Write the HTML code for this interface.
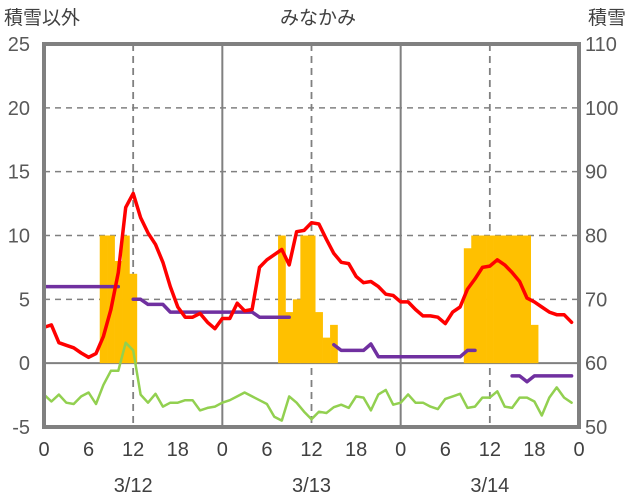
<!DOCTYPE html>
<html><head><meta charset="utf-8"><style>
html,body{margin:0;padding:0;background:#fff;}
svg{display:block;font-family:"Liberation Sans","Noto Sans CJK JP",sans-serif;}
</style></head><body>
<svg id="chart" width="636" height="501" viewBox="0 0 636 501" xmlns="http://www.w3.org/2000/svg">
<text x="4" y="24" font-size="19" fill="#404040">積雪以外</text>
<text x="318" y="24" font-size="19" fill="#404040" text-anchor="middle">みなかみ</text>
<text x="588" y="24" font-size="19" fill="#404040">積雪</text>
<g id="grid"></g><g id="bars"></g><g id="lines"></g><g id="axes"></g>
</svg>
<script>
const leftTicks=[-5,0,5,10,15,20,25];
const rightTicks=[50,60,70,80,90,100,110];
const xTickLabels=["0","6","12","18","0","6","12","18","0","6","12","18","0"];
const dateLabels=["3/12","3/13","3/14"];
const redSeries=[2.8,3.0,1.6,1.4,1.2,0.8,0.46,0.75,2.1,4.2,7.1,12.2,13.3,11.4,10.2,9.3,7.9,6.0,4.4,3.6,3.6,3.9,3.2,2.7,3.5,3.5,4.7,4.1,4.2,7.5,8.1,8.5,8.9,7.7,10.3,10.4,11.0,10.9,9.7,8.6,7.9,7.8,6.8,6.3,6.4,6.0,5.4,5.3,4.8,4.8,4.2,3.7,3.7,3.6,3.1,4.0,4.4,5.8,6.6,7.5,7.6,8.1,7.7,7.1,6.4,5.1,4.8,4.4,4.0,3.8,3.8,3.2];
const greenSeries=[-2.46,-3.0,-2.46,-3.1,-3.2,-2.6,-2.3,-3.2,-1.7,-0.6,-0.6,1.6,1.0,-2.46,-3.1,-2.4,-3.4,-3.1,-3.1,-2.9,-2.9,-3.7,-3.5,-3.4,-3.1,-2.9,-2.6,-2.3,-2.6,-2.9,-3.2,-4.2,-4.5,-2.6,-3.1,-3.8,-4.4,-3.8,-3.9,-3.45,-3.25,-3.5,-2.6,-2.7,-3.7,-2.45,-2.1,-3.25,-3.1,-2.45,-3.1,-3.1,-3.4,-3.6,-2.8,-2.6,-2.4,-3.5,-3.4,-2.7,-2.7,-2.2,-3.4,-3.5,-2.7,-2.7,-3.0,-4.1,-2.7,-1.9,-2.7,-3.1];
const snowDepth=[72,72,72,72,72,72,72,72,72,72,72,null,70,70,69.2,69.2,69.2,68,68,68,68,68,68,68,68,68,68,68,68,67.2,67.2,67.2,67.2,67.2,null,null,null,null,null,62.9,62,62,62,62,63,61,61,61,61,61,61,61,61,61,61,61,61,62,62,null,null,null,null,58,58,57.1,58,58,58,58,58,58];
const precip=[0,0,0,0,0,0,0,0,10,10,8,10,7,0,0,0,0,0,0,0,0,0,0,0,0,0,0,0,0,0,0,0,10,4,5,10,10,4,2,3,0,0,0,0,0,0,0,0,0,0,0,0,0,0,0,0,0,9,10,10,10,10,10,10,10,10,3,0,0,0,0,0];
const NS="http://www.w3.org/2000/svg";
const X0=44,X1=579,Y0=427,Y1=44;
const xs=h=>X0+(X1-X0)*h/72;
const yl=v=>Y0-(v+5)/30*(Y0-Y1);
const yr=v=>Y0-(v-50)/60*(Y0-Y1);
function mk(t,a,p){const e=document.createElementNS(NS,t);for(const k in a)e.setAttribute(k,a[k]);p.appendChild(e);return e;}
const grid=document.getElementById('grid'),bars=document.getElementById('bars'),lines=document.getElementById('lines'),axes=document.getElementById('axes');
leftTicks.forEach(v=>{
  if(v>-5&&v<25){const g=mk('line',{x1:X0,x2:X1,y1:yl(v),y2:yl(v),stroke:v===0?'#808080':'#808080','stroke-width':v===0?2:1.5,'stroke-dasharray':v===0?'':'6,5'},grid);
  
  }
  const t=mk('text',{x:30,y:yl(v)+7,'font-size':20,fill:'#595959','text-anchor':'end'},axes);t.textContent=v;
  
  
});
rightTicks.forEach(v=>{
  const t=mk('text',{x:585,y:yr(v)+7,'font-size':20,fill:'#595959'},axes);t.textContent=v;
  
  
});
[12,24,36,48,60].forEach(h=>{
  const solid=h%24===0;
  const g=mk('line',{x1:xs(h),x2:xs(h),y1:Y1,y2:Y0,stroke:'#808080','stroke-width':solid?2:1.8,'stroke-dasharray':solid?'':'7,5'},grid);
  
  
});
xTickLabels.forEach((s,i)=>{
  const t=mk('text',{x:xs(i*6),y:456,'font-size':20,fill:'#404040','text-anchor':'middle'},axes);t.textContent=s;
  
  
});
dateLabels.forEach((s,i)=>{
  const t=mk('text',{x:xs(12+24*i),y:492,'font-size':20,fill:'#404040','text-anchor':'middle'},axes);t.textContent=s;
  
  
});
const bw=(X1-X0)/72;
precip.forEach((v,i)=>{
  if(!v)return;
  const r=mk('rect',{x:xs(i)-bw/2,y:yl(v),width:bw+0.3,height:yl(0)-yl(v),fill:'#FFC000'},bars);
  
  
});
function path(arr,yf,color,w,name){
  let d='',pen=false;
  arr.forEach((v,i)=>{if(v===null){pen=false;return;}d+=(pen?'L':'M')+xs(i).toFixed(1)+' '+yf(v).toFixed(1)+' ';pen=true;});
  const p=mk('path',{d:d,fill:'none',stroke:color,'stroke-width':w,'stroke-linejoin':'round','stroke-linecap':'round'},lines);
  
  
}
path(greenSeries,yl,'#92D050',2.5,'green-series-line');
path(snowDepth,yr,'#7030A0',3.5,'snow-depth-line');
path(redSeries,yl,'#FF0000',3.5,'red-series-line');
const f=mk('rect',{x:X0,y:Y1,width:X1-X0,height:Y0-Y1,fill:'none',stroke:'#808080','stroke-width':4},axes);


</script>
</body></html>
